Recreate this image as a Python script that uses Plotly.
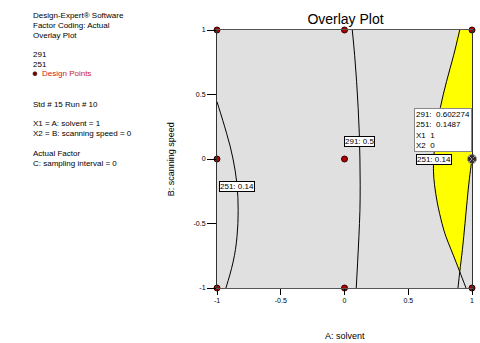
import plotly.graph_objects as go

# ---------------- data ----------------
design_x = [-1, 0, 1, -1, 0, -1, 0, 1]
design_y = [1, 1, 1, 0, 0, -1, -1, -1]
selected_x = [1]
selected_y = [0]

# contour 251 = 0.14 (left)
c251_left_x = [-1.0, -0.955, -0.925, -0.897, -0.874, -0.856, -0.843, -0.836, -0.834, -0.836,
               -0.843, -0.855, -0.874, -0.900, -0.930]
c251_left_y = [0.444, 0.3, 0.2, 0.1, 0.0, -0.1, -0.2, -0.3, -0.4, -0.5,
               -0.6, -0.7, -0.8, -0.9, -1.0]

# contour 291 = 0.5 (middle)
c291_mid_x = [0.061, 0.080, 0.095, 0.107, 0.116, 0.121, 0.123, 0.121, 0.113, 0.103, 0.092]
c291_mid_y = [1.0, 0.8, 0.6, 0.4, 0.2, 0.0, -0.2, -0.4, -0.6, -0.8, -1.0]

# contour 251 = 0.14 (right)
c251_right_x = [0.904, 0.855, 0.800, 0.752, 0.718, 0.700, 0.698, 0.706, 0.728, 0.765, 0.795,
                0.835, 0.875, 0.904, 0.953]
c251_right_y = [1.0, 0.8, 0.6, 0.4, 0.2, 0.0, -0.1, -0.2, -0.34, -0.5, -0.6,
                -0.7, -0.8, -0.874, -1.0]

# contour 291 (right, unlabeled)
c291_right_x = [0.89, 0.904, 0.925, 0.945, 0.962, 0.980, 1.0]
c291_right_y = [-1.0, -0.874, -0.7, -0.5, -0.32, -0.15, 0.0]

x_ticks = [-1, -0.5, 0, 0.5, 1]
x_ticktext = ["-1", "-0.5", "0", "0.5", "1"]
y_ticks = [-1, -0.5, 0, 0.5, 1]
y_ticktext = ["-1", "-0.5", "0", "0.5", "1"]

info_lines = [
    ("Design-Expert® Software", 15.7),
    ("Factor Coding: Actual", 25.3),
    ("Overlay Plot", 35.0),
    ("291", 54.0),
    ("251", 64.3),
    ("Std # 15 Run # 10", 104.3),
    ("X1 = A: solvent = 1", 123.7),
    ("X2 = B: scanning speed = 0", 133.3),
    ("Actual Factor", 153.3),
    ("C: sampling interval = 0", 163.0),
]

# ---------------- geometry helpers ----------------
L, R, T, B = 217, 474, 30, 288
W, H = 480, 343


def px2x(px):
    return (px - L) / (R - L)


def py2y(py):
    return (B - py) / (B - T)


# ---------------- feasible (yellow) region ----------------
cross_idx_l = c251_right_y.index(-0.874)
cross_idx_r = c291_right_y.index(-0.874)
poly_x = c251_right_x[:cross_idx_l + 1] + c291_right_x[cross_idx_r + 1:] + [1.0, c251_right_x[0]]
poly_y = c251_right_y[:cross_idx_l + 1] + c291_right_y[cross_idx_r + 1:] + [1.0, c251_right_y[0]]

fig = go.Figure()

fig.add_trace(go.Scatter(x=poly_x, y=poly_y, mode="lines", fill="toself",
                         fillcolor="#FFFF00", line=dict(width=0, shape="spline"), hoverinfo="skip"))

line_style = dict(color="black", width=1)
for xs, ys in [(c251_left_x, c251_left_y), (c291_mid_x, c291_mid_y),
               (c251_right_x, c251_right_y), (c291_right_x, c291_right_y)]:
    fig.add_trace(go.Scatter(x=xs, y=ys, mode="lines", line=dict(shape="spline", **line_style),
                             hoverinfo="skip"))

fig.add_trace(go.Scatter(x=design_x, y=design_y, mode="markers", cliponaxis=False,
                         marker=dict(size=6, color="#B00000", line=dict(color="#300000", width=1))))
fig.add_trace(go.Scatter(x=selected_x, y=selected_y, mode="markers", cliponaxis=False,
                         marker=dict(size=9, symbol="circle-x", color="#3a2828",
                                     line=dict(color="#9a9a9a", width=1))))

font_main = "Liberation Sans, Arial, sans-serif"
annotations = []


def box_label(x, y, text):
    annotations.append(dict(x=x, y=y, xref="x", yref="y", text=text, showarrow=False,
                            font=dict(size=8, color="black", family=font_main),
                            bgcolor="white", bordercolor="black", borderwidth=1, borderpad=0))


box_label(-0.84, -0.215, "251:\u00a00.14")
box_label(0.12, 0.134, "291:\u00a00.5")
box_label(0.70, 0.0, "251:\u00a00.14")

# tooltip
annotations.append(dict(x=px2x(416), y=py2y(108), xref="paper", yref="paper",
                        xanchor="left", yanchor="top", align="left", showarrow=False,
                        text="291:\u00a0\u00a00.602274<br>251:\u00a0\u00a00.1487<br>X1\u00a0\u00a01<br>X2\u00a0\u00a00",
                        font=dict(size=8, color="black", family=font_main),
                        bgcolor="white", bordercolor="#888888", borderwidth=1, borderpad=1))

# left info panel
for txt, py in info_lines:
    annotations.append(dict(x=px2x(29.5), y=py2y(py), xref="paper", yref="paper",
                            xanchor="left", yanchor="middle", showarrow=False, text=txt,
                            font=dict(size=8, color="black", family=font_main)))
annotations.append(dict(x=px2x(38.5), y=py2y(73.7), xref="paper", yref="paper",
                        xanchor="left", yanchor="middle", showarrow=False, text="Design Points",
                        font=dict(size=8, color="#D02020", family=font_main)))

# axis titles
annotations.append(dict(x=px2x(345.5), y=py2y(336), xref="paper", yref="paper",
                        xanchor="center", yanchor="middle", showarrow=False, text="A: solvent",
                        font=dict(size=9, color="black", family=font_main)))
annotations.append(dict(x=px2x(171), y=py2y(159), xref="paper", yref="paper",
                        xanchor="center", yanchor="middle", showarrow=False, textangle=-90,
                        text="B: scanning speed",
                        font=dict(size=9, color="black", family=font_main)))

shapes = [dict(type="circle", xref="paper", yref="paper",
               x0=px2x(31.5), x1=px2x(35.5), y0=py2y(75.7), y1=py2y(71.7),
               fillcolor="#8B0000", line=dict(color="black", width=0.5))]

fig.update_layout(
    width=W, height=H,
    margin=dict(l=L, r=W - R, t=T, b=H - B, pad=0),
    paper_bgcolor="white", plot_bgcolor="#E0E0E0",
    showlegend=False,
    title=dict(text="Overlay Plot", x=345.5 / W, xanchor="center",
               y=1 - 19.5 / H, yanchor="middle",
               font=dict(size=14, color="black", family=font_main)),
    annotations=annotations,
    shapes=shapes,
    font=dict(family=font_main),
)

fig.update_xaxes(range=[-1, 1], tickvals=x_ticks, ticktext=x_ticktext, ticks="outside",
                 ticklen=6, tickcolor="black", tickfont=dict(size=7, color="black"),
                 showgrid=False, zeroline=False, showline=True, linecolor="#555555",
                 linewidth=1, mirror=True)
fig.update_yaxes(range=[-1, 1], tickvals=y_ticks, ticktext=y_ticktext, ticks="outside",
                 ticklen=9, tickcolor="black", tickfont=dict(size=7, color="black"),
                 showgrid=False, zeroline=False, showline=True, linecolor="#333333",
                 linewidth=1, mirror=True)

fig.write_html("out.html")
